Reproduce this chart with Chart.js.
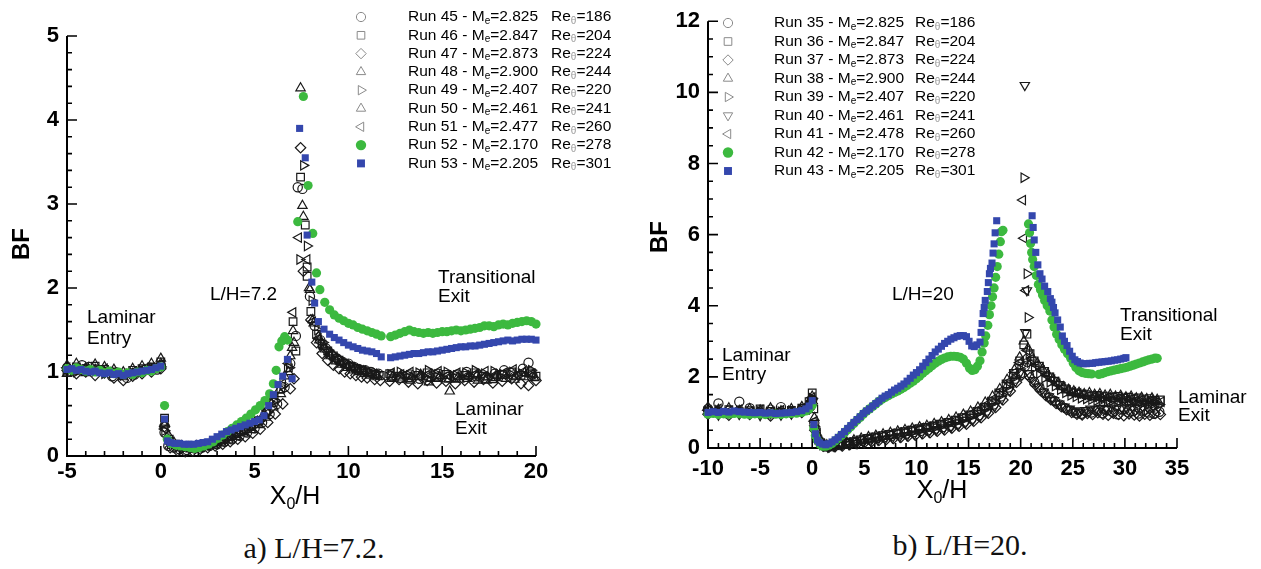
<!DOCTYPE html>
<html>
<head>
<meta charset="utf-8">
<script src="https://cdn.jsdelivr.net/npm/chart.js@4.4.0/dist/chart.umd.min.js"></script>
<style>
  html, body { margin: 0; padding: 0; background: #fff; }
  body { width: 1261px; height: 569px; position: relative; overflow: hidden; }
  .panel { position: absolute; top: 0; }
  #panelA { left: 0; }
  #panelB { left: 640px; }
  .caption {
    position: absolute; white-space: nowrap; transform: translateX(-50%);
    font-family: "Liberation Serif", "Times New Roman", serif; font-size: 30px; color: #111;
  }
</style>
</head>
<body>
<div class="panel" id="panelA"><canvas id="chartA" width="640" height="520"></canvas></div>
<div class="panel" id="panelB"><canvas id="chartB" width="621" height="520"></canvas></div>
<div class="caption" style="left:314px; top:531px;">a) L/H=7.2.</div>
<div class="caption" style="left:960px; top:528px;">b) L/H=20.</div>
<script>
// ---------- a) L/H = 7.2 ----------
const runsA = ['Run 45', 'Run 46', 'Run 47', 'Run 48', 'Run 49', 'Run 50', 'Run 51', 'Run 52', 'Run 53'];
const machA = ['2.825', '2.847', '2.873', '2.900', '2.407', '2.461', '2.477', '2.170', '2.205'];
const reA = ['186', '204', '224', '244', '220', '241', '260', '278', '301'];

const run45 = [[-5,1.05],[-4.6,1.02],[-4.2,1.08],[-3.8,1.06],[-3.4,1.03],[-3,1.0],[-2.6,0.95],[-2.2,0.98],[-1.8,0.93],[-1.4,0.97],[-1,1.0],[-0.6,1.05],[-0.2,1.03],[0,1.08],
  [0.2,0.28],[0.4,0.12],[0.7,0.1],[1,0.08],[1.4,0.07],[1.8,0.09],[2.2,0.1],[2.6,0.12],[3,0.14],
  [3.4,0.17],[3.8,0.2],[4.2,0.24],[4.6,0.28],[5,0.33],[5.4,0.4],[5.8,0.5],[6.2,0.62],[6.6,0.82],[6.9,1.1],[7.2,1.43],
  [7.3,3.2],[7.55,3.18],[7.95,1.9],
  [8.2,1.55],[8.5,1.38],[8.8,1.28],[9.1,1.2],[9.4,1.16],[9.7,1.12],[10,1.1],[10.3,1.06],[10.6,1.03],[10.9,1.02],[11.2,1.0],[11.6,0.98],
  [12.3,0.95],[12.8,0.93],[13.3,0.97],[13.8,0.92],[14.3,0.95],[14.8,0.98],[15.3,0.94],[15.8,0.97],[16.3,1.0],[16.8,0.95],[17.3,0.93],[17.8,0.98],[18.3,1.02],[18.8,0.96],[19.3,1.04],[19.6,1.11],[19.8,0.97]];
const run46 = [[-5,1.0],[-4.5,1.06],[-4,1.04],[-3.5,1.07],[-3,1.03],[-2.5,1.0],[-2,0.97],[-1.5,1.02],[-1,1.04],[-0.5,1.06],[0,1.12],
  [0.2,0.45],[0.45,0.2],[0.8,0.14],[1.2,0.12],[1.6,0.1],[2,0.12],[2.4,0.14],[2.8,0.17],[3.2,0.2],
  [3.6,0.23],[4,0.27],[4.4,0.3],[4.8,0.35],[5.2,0.42],[5.6,0.52],[6,0.64],[6.4,0.8],[6.8,1.05],[7.05,1.6],[7.2,1.25],
  [7.45,3.32],[7.7,2.75],[7.8,2.25],[7.8,2.14],
  [8,1.72],[8.3,1.45],[8.6,1.33],[8.9,1.25],[9.2,1.19],[9.5,1.14],[9.8,1.1],[10.1,1.07],[10.4,1.04],[10.7,1.02],[11,0.99],[11.4,0.97],[11.7,0.96],
  [12.2,0.98],[12.7,0.95],[13.2,0.93],[13.7,0.96],[14.2,0.99],[14.7,0.94],[15.2,0.97],[15.7,0.93],[16.2,0.96],[16.7,0.99],[17.2,0.95],[17.7,0.92],[18.2,0.97],[18.7,1.0],[19.2,0.96],[19.7,0.99],[20,0.95]];
const run47 = [[-5,1.02],[-4.5,0.98],[-4,1.0],[-3.5,0.96],[-3,0.99],[-2.5,0.93],[-2,0.9],[-1.5,0.95],[-1,0.98],[-0.5,1.0],[0,1.04],
  [0.2,0.35],[0.5,0.1],[0.9,0.06],[1.3,0.05],[1.7,0.06],[2.1,0.08],[2.5,0.1],[2.9,0.12],
  [3.3,0.14],[3.7,0.17],[4.1,0.2],[4.5,0.23],[4.9,0.27],[5.3,0.32],[5.7,0.4],[6.1,0.5],[6.5,0.62],[6.9,0.8],[7.1,0.92],
  [7.45,3.67],[7.6,2.2],
  [8,1.62],[8.3,1.35],[8.6,1.22],[8.9,1.14],[9.2,1.08],[9.5,1.04],[9.8,1.0],[10.1,0.98],[10.4,0.96],[10.7,0.94],[11,0.93],[11.4,0.91],[11.7,0.9],
  [12.2,0.89],[12.7,0.91],[13.2,0.88],[13.7,0.86],[14.2,0.9],[14.7,0.87],[15.2,0.89],[15.7,0.86],[16.2,0.9],[16.7,0.88],[17.2,0.91],[17.7,0.87],[18.2,0.89],[18.7,0.92],[19.2,0.86],[19.6,0.84],[20,0.9]];
const run48 = [[-5,1.08],[-4.5,1.1],[-4,1.05],[-3.5,1.09],[-3,1.06],[-2.5,1.03],[-2,1.0],[-1.5,1.04],[-1,1.07],[-0.5,1.1],[0,1.16],
  [0.2,0.4],[0.4,0.25],[0.7,0.16],[1.1,0.12],[1.5,0.11],[1.9,0.12],[2.3,0.13],[2.7,0.16],[3.1,0.19],
  [3.5,0.22],[3.9,0.26],[4.3,0.3],[4.7,0.34],[5.1,0.4],[5.5,0.5],[5.9,0.62],[6.3,0.78],[6.6,0.95],[6.9,1.19],[7,1.29],[7.05,1.49],
  [7.45,4.38],[7.55,2.98],[7.95,1.98],
  [8.1,1.62],[8.4,1.42],[8.7,1.3],[9,1.22],[9.3,1.16],[9.6,1.12],[9.9,1.08],[10.2,1.05],[10.5,1.03],[10.8,1.01],[11.1,0.99],[11.5,0.97],
  [12.3,0.92],[12.8,0.96],[13.3,0.9],[13.8,0.94],[14.3,0.88],[14.8,0.92],[15.4,0.77],[15.9,0.91],[16.4,0.95],[16.9,0.9],[17.4,0.94],[17.9,0.97],[18.4,0.92],[18.9,0.95],[19.4,0.99],[19.9,0.93]];
const run49 = [[-5,1.03],[-4.5,1.0],[-4,1.03],[-3.5,1.01],[-3,0.98],[-2.5,1.0],[-2,0.96],[-1.5,0.99],[-1,1.02],[-0.5,1.04],[0,1.06],
  [0.2,0.3],[0.5,0.14],[0.9,0.11],[1.3,0.1],[1.7,0.1],[2.1,0.11],[2.5,0.13],[2.9,0.15],
  [3.3,0.18],[3.7,0.22],[4.1,0.26],[4.5,0.3],[4.9,0.35],[5.3,0.42],[5.7,0.52],[6.1,0.66],[6.5,0.84],[6.85,1.05],
  [7.6,3.46],[7.8,2.5],[7.4,2.34],
  [8.05,1.85],[8.35,1.5],[8.65,1.35],[8.95,1.26],[9.25,1.2],[9.55,1.15],[9.85,1.11],[10.15,1.08],[10.45,1.05],[10.75,1.03],[11.05,1.01],[11.45,0.99],
  [12.25,0.97],[12.75,1.0],[13.25,0.96],[13.75,0.99],[14.25,1.02],[14.75,0.97],[15.25,1.0],[15.75,0.96],[16.25,0.99],[16.75,1.02],[17.25,0.98],[17.75,1.01],[18.25,0.97],[18.75,1.0],[19.25,0.98],[19.75,1.02]];
const run50 = [[-5,0.98],[-4.5,1.02],[-4,0.99],[-3.5,1.03],[-3,1.0],[-2.5,0.97],[-2,0.94],[-1.5,0.98],[-1,1.01],[-0.5,1.03],[0,1.1],
  [0.2,0.38],[0.45,0.18],[0.8,0.12],[1.2,0.09],[1.6,0.08],[2,0.09],[2.4,0.11],[2.8,0.13],[3.2,0.16],
  [3.6,0.19],[4,0.23],[4.4,0.27],[4.8,0.31],[5.2,0.37],[5.6,0.46],[6,0.58],[6.4,0.74],[6.8,1.0],[7.1,1.35],
  [7.6,2.85],[7.9,2.0],
  [8.15,1.58],[8.45,1.38],[8.75,1.27],[9.05,1.19],[9.35,1.13],[9.65,1.09],[9.95,1.05],[10.25,1.02],[10.55,1.0],[10.85,0.98],[11.15,0.96],[11.55,0.94],
  [12.35,0.94],[12.85,0.91],[13.35,0.94],[13.85,0.97],[14.35,0.92],[14.85,0.95],[15.35,0.91],[15.85,0.94],[16.35,0.92],[16.85,0.96],[17.35,0.9],[17.85,0.93],[18.35,0.96],[18.85,0.91],[19.35,0.94],[19.85,0.97]];
const run51 = [[-5,1.05],[-4.5,1.03],[-4,1.06],[-3.5,1.02],[-3,1.04],[-2.5,0.99],[-2,0.98],[-1.5,1.0],[-1,1.03],[-0.5,1.05],[0,1.09],
  [0.2,0.32],[0.5,0.15],[0.9,0.12],[1.3,0.11],[1.7,0.11],[2.1,0.12],[2.5,0.14],[2.9,0.16],
  [3.3,0.19],[3.7,0.23],[4.1,0.27],[4.5,0.31],[4.9,0.36],[5.3,0.43],[5.7,0.54],[6.1,0.68],[6.5,0.86],[6.8,1.1],[7.05,1.71],
  [7.35,2.6],[7.8,2.34],
  [8.1,1.6],[8.4,1.4],[8.7,1.29],[9,1.21],[9.3,1.15],[9.6,1.11],[9.9,1.07],[10.2,1.04],[10.5,1.02],[10.8,1.0],[11.1,0.98],[11.5,0.96],
  [12.3,0.99],[12.8,0.97],[13.3,1.0],[13.8,0.95],[14.3,0.98],[14.8,1.01],[15.3,0.96],[15.8,0.99],[16.3,0.95],[16.8,0.98],[17.3,1.01],[17.8,0.96],[18.3,0.99],[18.8,1.03],[19.3,1.0],[19.8,0.98]];
const run52 = [[-5,1.04],[-4.75,1.02],[-4.5,1.05],[-4.25,1.03],[-4,1.01],[-3.75,1.03],[-3.5,1.0],[-3.25,1.02],[-3,0.99],[-2.75,1.01],[-2.5,0.98],[-2.25,1.0],[-2,0.97],[-1.75,0.99],[-1.5,0.97],[-1.25,1.0],[-1,0.99],[-0.75,1.02],[-0.5,1.01],[-0.25,1.04],[0,1.06],
  [0.2,0.6],[0.35,0.2],[0.55,0.15],[0.8,0.13],[1.05,0.12],[1.3,0.11],[1.55,0.1],[1.8,0.09],[2.05,0.1],[2.3,0.12],[2.55,0.14],[2.8,0.17],[3.05,0.21],[3.3,0.25],[3.55,0.29],[3.8,0.33],[4.05,0.37],[4.3,0.41],[4.55,0.45],[4.8,0.5],[5.05,0.55],[5.3,0.6],[5.55,0.66],[5.8,0.74],[6,0.86],[6.15,1.02],[6.3,1.3],[6.45,1.37],[6.6,1.42],[6.75,1.38],
  [7.3,2.79],[7.6,4.28],[7.85,3.22],[8.1,2.65],[8.3,2.18],[8.48,1.98],[8.74,1.83],[9,1.74],[9.25,1.68],[9.5,1.64],[9.75,1.61],[10,1.58],[10.25,1.56],[10.5,1.53],[10.75,1.51],[11,1.49],[11.25,1.47],[11.5,1.45],[11.75,1.43],
  [12.25,1.42],[12.5,1.44],[12.75,1.46],[13,1.48],[13.25,1.5],[13.5,1.48],[13.75,1.47],[14,1.46],[14.25,1.47],[14.5,1.46],[14.75,1.47],[15,1.48],[15.25,1.48],[15.5,1.49],[15.75,1.5],[16,1.49],[16.25,1.5],[16.5,1.51],[16.75,1.52],[17,1.53],[17.25,1.55],[17.5,1.55],[17.75,1.54],[18,1.56],[18.25,1.57],[18.5,1.56],[18.75,1.58],[19,1.59],[19.25,1.6],[19.5,1.61],[19.75,1.6],[20,1.57]];
const run53 = [[-5,1.03],[-4.75,1.04],[-4.5,1.02],[-4.25,1.03],[-4,1.01],[-3.75,1.0],[-3.5,1.01],[-3.25,0.99],[-3,0.98],[-2.75,0.99],[-2.5,0.97],[-2.25,0.98],[-2,0.96],[-1.75,0.98],[-1.5,0.99],[-1.25,1.0],[-1,1.01],[-0.75,1.02],[-0.5,1.03],[-0.25,1.05],[0,1.07],
  [0.2,0.44],[0.35,0.18],[0.5,0.16],[0.75,0.15],[1,0.15],[1.25,0.14],[1.5,0.14],[1.75,0.14],[2,0.15],[2.25,0.16],[2.5,0.17],[2.75,0.2],[3,0.23],[3.25,0.26],[3.5,0.29],[3.75,0.31],[4,0.33],[4.25,0.35],[4.5,0.37],[4.75,0.39],[5,0.41],[5.25,0.43],[5.5,0.48],[5.75,0.6],[6,0.73],[6.25,0.85],[6.5,0.95],[6.75,1.15],[7,0.92],
  [7.4,3.9],[7.7,3.55],[7.8,2.63],[8.05,2.07],[8.2,1.82],[8.4,1.6],[8.7,1.51],[9,1.45],[9.25,1.41],[9.5,1.38],[9.75,1.35],[10,1.32],[10.25,1.3],[10.5,1.28],[10.75,1.26],[11,1.25],[11.25,1.24],[11.5,1.22],[11.75,1.18],
  [12.25,1.17],[12.5,1.18],[12.75,1.19],[13,1.2],[13.25,1.21],[13.5,1.22],[13.75,1.22],[14,1.23],[14.25,1.24],[14.5,1.24],[14.75,1.25],[15,1.26],[15.25,1.27],[15.5,1.28],[15.75,1.29],[16,1.3],[16.25,1.3],[16.5,1.31],[16.75,1.31],[17,1.32],[17.25,1.33],[17.5,1.34],[17.75,1.35],[18,1.36],[18.25,1.37],[18.5,1.38],[18.75,1.37],[19,1.38],[19.25,1.39],[19.5,1.39],[19.75,1.39],[20,1.38]];

// ---------- b) L/H = 20 ----------
const runsB = ['Run 35', 'Run 36', 'Run 37', 'Run 38', 'Run 39', 'Run 40', 'Run 41', 'Run 42', 'Run 43'];
const machB = ['2.825', '2.847', '2.873', '2.900', '2.407', '2.461', '2.478', '2.170', '2.205'];
const reB = ['186', '204', '224', '244', '220', '241', '260', '278', '301'];

const run35 = [[-10,1.1],[-9,1.25],[-8,1.05],[-7,1.3],[-6,1.12],[-5,1.0],[-4,1.08],[-3,1.15],[-2,1.02],[-1,1.1],[-0.3,1.2],[0,1.35],
  [0.2,0.7],[0.5,0.3],[1,0.1],[1.5,0.04],[2,0.05],[2.7,0.08],[3.4,0.12],[4.1,0.16],[4.8,0.2],[5.5,0.24],[6.2,0.28],[6.9,0.3],[7.6,0.34],[8.3,0.38],[9,0.4],[9.7,0.44],[10.4,0.48],[11.1,0.5],[11.8,0.54],[12.5,0.58],[13.2,0.62],[13.9,0.68],[14.6,0.74],[15.3,0.82],[16,0.92],[16.7,1.05],[17.4,1.22],[18.1,1.45],[18.8,1.7],[19.5,1.95],[20,2.1],[20.4,2.3],
  [20.8,2.05],[21.3,1.85],[21.8,1.7],[22.3,1.55],[22.8,1.42],[23.3,1.32],[23.8,1.22],[24.3,1.12],[24.8,1.05],[25.3,0.98],[25.8,0.96],[26.3,1.02],[26.8,1.0],[27.3,1.05],[27.8,0.98],[28.3,1.06],[28.8,1.02],[29.3,0.95],[29.8,1.08],[30.3,1.0],[30.8,1.04],[31.3,0.97],[31.8,1.05],[32.3,1.0],[32.8,0.96],[33.3,1.02]];
const run36 = [[-10,1.05],[-9,1.0],[-8,1.08],[-7,1.02],[-6,1.05],[-5,1.1],[-4,1.03],[-3,1.0],[-2,1.06],[-1,1.12],[-0.3,1.3],[0,1.55],
  [0.15,1.1],[0.4,0.45],[0.8,0.15],[1.3,0.06],[1.8,0.07],[2.5,0.1],[3.2,0.14],[3.9,0.18],[4.6,0.23],[5.3,0.27],[6,0.31],[6.7,0.35],[7.4,0.38],[8.1,0.42],[8.8,0.46],[9.5,0.5],[10.2,0.54],[10.9,0.58],[11.6,0.62],[12.3,0.67],[13,0.72],[13.7,0.78],[14.4,0.85],[15.1,0.93],[15.8,1.03],[16.5,1.15],[17.2,1.32],[17.9,1.55],[18.6,1.8],[19.3,2.1],[19.9,2.45],[20.3,2.9],[20.6,3.2],
  [20.9,2.65],[21.3,2.45],[21.8,2.3],[22.3,2.15],[22.8,2.0],[23.3,1.88],[23.8,1.76],[24.3,1.66],[24.8,1.58],[25.3,1.55],[25.8,1.52],[26.3,1.5],[26.8,1.46],[27.3,1.48],[27.8,1.44],[28.3,1.46],[28.8,1.42],[29.3,1.45],[29.8,1.4],[30.3,1.43],[30.8,1.38],[31.3,1.41],[31.8,1.36],[32.3,1.39],[32.8,1.34],[33.4,1.35]];
const run37 = [[-10,0.95],[-9,1.02],[-8,0.92],[-7,0.98],[-6,0.94],[-5,0.97],[-4,0.9],[-3,0.95],[-2,0.98],[-1,1.0],[-0.3,1.1],[0,1.25],
  [0.25,0.5],[0.6,0.18],[1.1,0.05],[1.6,0.02],[2.2,0.04],[2.9,0.06],[3.6,0.09],[4.3,0.12],[5,0.15],[5.7,0.18],[6.4,0.21],[7.1,0.24],[7.8,0.27],[8.5,0.3],[9.2,0.33],[9.9,0.36],[10.6,0.4],[11.3,0.43],[12,0.47],[12.7,0.51],[13.4,0.56],[14.1,0.61],[14.8,0.67],[15.5,0.75],[16.2,0.85],[16.9,0.98],[17.6,1.14],[18.3,1.35],[19,1.6],[19.6,1.85],[20.1,2.05],[20.5,2.5],
  [20.9,1.98],[21.4,1.78],[21.9,1.62],[22.4,1.48],[22.9,1.36],[23.4,1.25],[23.9,1.16],[24.4,1.08],[24.9,1.0],[25.4,0.95],[25.9,0.93],[26.4,0.97],[26.9,0.94],[27.4,0.99],[27.9,0.95],[28.4,0.92],[28.9,0.98],[29.4,0.94],[29.9,0.91],[30.4,0.96],[30.9,0.93],[31.4,0.9],[31.9,0.95],[32.4,0.92],[32.9,0.97],[33.4,0.94]];
const run38 = [[-10,1.15],[-9,1.08],[-8,1.12],[-7,1.05],[-6,1.1],[-5,1.06],[-4,1.12],[-3,1.04],[-2,1.1],[-1,1.16],[-0.3,1.28],[0,1.45],
  [0.2,0.85],[0.5,0.35],[0.9,0.14],[1.4,0.08],[2,0.1],[2.6,0.13],[3.3,0.17],[4,0.22],[4.7,0.27],[5.4,0.31],[6.1,0.35],[6.8,0.39],[7.5,0.43],[8.2,0.47],[8.9,0.51],[9.6,0.55],[10.3,0.59],[11,0.63],[11.7,0.68],[12.4,0.73],[13.1,0.79],[13.8,0.86],[14.5,0.94],[15.2,1.03],[15.9,1.14],[16.6,1.28],[17.3,1.45],[18,1.66],[18.7,1.92],[19.4,2.2],[19.9,2.55],[20.3,3.0],
  [20.7,2.8],[21.1,2.55],[21.6,2.38],[22.1,2.22],[22.6,2.08],[23.1,1.95],[23.6,1.83],[24.1,1.72],[24.6,1.64],[25.1,1.6],[25.6,1.56],[26.1,1.52],[26.6,1.55],[27.1,1.5],[27.6,1.52],[28.1,1.48],[28.6,1.5],[29.1,1.45],[29.6,1.47],[30.1,1.43],[30.6,1.45],[31.1,1.4],[31.6,1.42],[32.1,1.38],[32.6,1.4],[33.1,1.36]];
const run39 = [[-10,1.02],[-9,1.06],[-8,0.98],[-7,1.04],[-6,1.0],[-5,1.03],[-4,0.97],[-3,1.02],[-2,1.05],[-1,1.08],[-0.3,1.2],[0,1.4],
  [0.2,0.6],[0.5,0.25],[1,0.08],[1.5,0.05],[2.1,0.07],[2.8,0.1],[3.5,0.14],[4.2,0.18],[4.9,0.22],[5.6,0.26],[6.3,0.29],[7,0.33],[7.7,0.36],[8.4,0.4],[9.1,0.44],[9.8,0.48],[10.5,0.52],[11.2,0.56],[11.9,0.6],[12.6,0.65],[13.3,0.7],[14,0.76],[14.7,0.83],[15.4,0.91],[16.1,1.01],[16.8,1.13],[17.5,1.29],[18.2,1.5],[18.9,1.75],[19.5,2.0],[20,2.3],
  [20.3,7.6],[20.6,4.9],[20.7,3.67],
  [20.9,2.4],[21.3,2.25],[21.8,2.1],[22.3,1.97],[22.8,1.85],[23.3,1.74],[23.8,1.64],[24.3,1.55],[24.8,1.48],[25.3,1.44],[25.8,1.4],[26.3,1.38],[26.8,1.36],[27.3,1.33],[27.8,1.35],[28.3,1.31],[28.8,1.33],[29.3,1.29],[29.8,1.31],[30.3,1.27],[30.8,1.29],[31.3,1.25],[31.8,1.27],[32.3,1.23],[32.8,1.25],[33.3,1.22]];
const run40 = [[-10,0.98],[-9,0.93],[-8,1.0],[-7,0.95],[-6,0.99],[-5,0.92],[-4,0.97],[-3,0.93],[-2,0.96],[-1,1.02],[-0.3,1.12],[0,1.3],
  [0.2,0.55],[0.55,0.2],[1,0.07],[1.5,0.03],[2.1,0.05],[2.8,0.08],[3.5,0.11],[4.2,0.14],[4.9,0.17],[5.6,0.2],[6.3,0.23],[7,0.26],[7.7,0.29],[8.4,0.32],[9.1,0.35],[9.8,0.39],[10.5,0.42],[11.2,0.46],[11.9,0.5],[12.6,0.54],[13.3,0.59],[14,0.64],[14.7,0.71],[15.4,0.79],[16.1,0.89],[16.8,1.01],[17.5,1.17],[18.2,1.38],[18.9,1.62],[19.5,1.88],[20,2.15],
  [20.4,10.2],[20.45,3.25],[20.6,4.43],
  [20.8,2.1],[21.2,1.9],[21.7,1.72],[22.2,1.58],[22.7,1.45],[23.2,1.34],[23.7,1.24],[24.2,1.16],[24.7,1.1],[25.2,1.05],[25.7,1.02],[26.2,1.06],[26.7,1.1],[27.2,1.08],[27.7,1.12],[28.2,1.09],[28.7,1.13],[29.2,1.1],[29.7,1.14],[30.2,1.11],[30.7,1.15],[31.2,1.12],[31.7,1.16],[32.2,1.13],[32.7,1.17],[33.2,1.14]];
const run41 = [[-10,1.06],[-9,1.1],[-8,1.03],[-7,1.08],[-6,1.02],[-5,1.07],[-4,1.01],[-3,1.06],[-2,1.03],[-1,1.09],[-0.3,1.22],[0,1.42],
  [0.2,0.75],[0.5,0.3],[0.95,0.1],[1.45,0.06],[2,0.08],[2.7,0.11],[3.4,0.15],[4.1,0.19],[4.8,0.24],[5.5,0.28],[6.2,0.32],[6.9,0.36],[7.6,0.4],[8.3,0.44],[9,0.48],[9.7,0.52],[10.4,0.56],[11.1,0.6],[11.8,0.64],[12.5,0.69],[13.2,0.74],[13.9,0.8],[14.6,0.88],[15.3,0.97],[16,1.08],[16.7,1.21],[17.4,1.38],[18.1,1.6],[18.8,1.85],[19.4,2.12],[19.9,2.4],
  [20.2,6.97],[20.3,5.9],[20.5,4.43],[20.6,2.75],
  [21,2.5],[21.5,2.33],[22,2.18],[22.5,2.04],[23,1.92],[23.5,1.8],[24,1.7],[24.5,1.62],[25,1.57],[25.5,1.53],[26,1.49],[26.5,1.46],[27,1.43],[27.5,1.41],[28,1.38],[28.5,1.4],[29,1.36],[29.5,1.38],[30,1.34],[30.5,1.36],[31,1.32],[31.5,1.34],[32,1.3],[32.5,1.32],[33,1.28],[33.5,1.3]];
const run42 = [[-10,0.95],[-9.5,0.97],[-9,0.94],[-8.5,0.96],[-8,0.95],[-7.5,0.97],[-7,0.96],[-6.5,0.95],[-6,0.94],[-5.5,0.96],[-5,0.95],[-4.5,0.94],[-4,0.96],[-3.5,0.95],[-3,0.94],[-2.5,0.96],[-2,0.97],[-1.5,0.98],[-1,1.0],[-0.6,1.04],[-0.3,1.1],[0,1.2],
  [0.15,0.56],[0.3,0.35],[0.5,0.22],[0.75,0.1],[1,0.05],[1.3,0.05],[1.6,0.08],[1.9,0.13],[2.2,0.2],[2.5,0.27],[2.8,0.35],[3.1,0.43],[3.4,0.51],[3.7,0.6],[4,0.69],[4.3,0.78],[4.6,0.86],[4.9,0.95],[5.2,1.03],[5.5,1.1],[5.8,1.17],[6.1,1.24],[6.4,1.31],[6.7,1.37],[7,1.42],[7.3,1.47],[7.6,1.52],[7.9,1.56],[8.2,1.6],[8.5,1.65],[8.8,1.7],[9.1,1.76],[9.4,1.82],[9.7,1.88],[10,1.95],[10.3,2.02],[10.6,2.1],[10.9,2.17],[11.2,2.24],[11.5,2.31],[11.8,2.38],[12.1,2.44],[12.4,2.49],[12.7,2.53],[13,2.56],[13.3,2.58],[13.6,2.58],[13.9,2.57],[14.2,2.55],[14.5,2.5],[14.8,2.38],[15.1,2.24],[15.35,2.18],[15.6,2.2],[15.85,2.3],
  [16.1,2.45],[16.3,2.7],[16.5,2.95],[16.65,3.15],[16.85,3.45],[17,3.75],[17.15,4.0],[17.3,4.25],[17.45,4.5],[17.6,4.8],[17.75,5.1],[17.9,5.45],[18.05,5.8],[18.15,6.08],[18.3,6.12],
  [20.75,6.3],[20.85,6.05],[20.95,5.75],[21.05,5.5],[21.15,5.3],[21.3,5.1],[21.5,4.85],[21.7,4.6],[21.9,4.45],[22.1,4.3],[22.3,4.15],[22.55,4.0],[22.8,3.85],[23,3.6],[23.2,3.4],[23.45,3.2],[23.7,3.05],[23.95,2.9],[24.2,2.78],[24.5,2.65],[24.8,2.52],[25.05,2.38],[25.3,2.26],[25.6,2.17],[25.9,2.12],[26.2,2.1],[26.5,2.09],[26.8,2.08],
  [27.5,2.07],[27.8,2.09],[28.1,2.12],[28.4,2.15],[28.7,2.17],[29,2.19],[29.3,2.21],[29.6,2.23],[29.9,2.25],[30.2,2.27],[30.5,2.3],[30.8,2.33],[31.1,2.36],[31.4,2.39],[31.7,2.42],[32,2.45],[32.3,2.48],[32.6,2.5],[32.9,2.53],[33.1,2.52]];
const run43 = [[-10,1.0],[-9.5,1.02],[-9,1.0],[-8.5,1.03],[-8,1.01],[-7.5,1.04],[-7,1.02],[-6.5,1.01],[-6,1.0],[-5.5,0.99],[-5,1.0],[-4.5,0.98],[-4,0.99],[-3.5,0.97],[-3,0.98],[-2.5,0.99],[-2,1.0],[-1.5,1.02],[-1,1.05],[-0.6,1.1],[-0.3,1.18],[0,1.33],
  [0.15,0.66],[0.3,0.4],[0.5,0.22],[0.7,0.15],[1,0.11],[1.3,0.09],[1.6,0.12],[1.9,0.17],[2.2,0.23],[2.5,0.3],[2.8,0.38],[3.1,0.46],[3.4,0.55],[3.7,0.63],[4,0.72],[4.3,0.8],[4.6,0.88],[4.9,0.97],[5.2,1.04],[5.5,1.1],[5.8,1.18],[6.1,1.25],[6.4,1.32],[6.7,1.4],[7,1.46],[7.3,1.5],[7.6,1.57],[7.9,1.63],[8.2,1.68],[8.5,1.74],[8.8,1.8],[9.1,1.88],[9.4,1.96],[9.7,2.05],[10,2.12],[10.3,2.2],[10.6,2.3],[10.9,2.4],[11.2,2.5],[11.5,2.6],[11.8,2.7],[12.1,2.78],[12.4,2.86],[12.7,2.94],[13,3.0],[13.3,3.06],[13.6,3.1],[13.9,3.14],[14.2,3.16],[14.5,3.16],[14.8,3.13],[15.05,3.0],[15.3,2.87],[15.55,2.85],[15.8,2.9],
  [16.1,2.98],[16.2,3.25],[16.3,3.5],[16.4,3.78],[16.5,3.95],[16.6,4.15],[16.8,4.4],[16.9,4.65],[17,4.9],[17.1,5.05],[17.25,5.2],[17.35,5.48],[17.45,5.74],[17.55,6.05],[17.7,6.39],
  [21.1,6.53],[21.2,6.2],[21.3,5.85],[21.45,5.5],[21.65,5.15],[21.85,4.9],[22.05,4.75],[22.3,4.55],[22.6,4.4],[22.85,4.2],[23,4.1],[23.15,3.95],[23.3,3.8],[23.55,3.6],[23.8,3.4],[24,3.15],[24.2,3.0],[24.45,2.88],[24.7,2.72],[24.95,2.58],[25.2,2.48],[25.45,2.43],[25.7,2.39],[26,2.37],[26.3,2.37],[26.6,2.38],[26.9,2.38],[27.2,2.4],[27.5,2.41],[27.8,2.42],[28.1,2.43],[28.4,2.44],[28.7,2.45],[29,2.47],[29.3,2.48],[29.6,2.5],[29.9,2.52],[30.1,2.54]];

const FONT = "'Liberation Sans', Arial, Helvetica, sans-serif";
const OPEN_INK = 'rgba(25,25,25,1)';
const GREEN = '#3cb93f';
const BLUE = '#3447ad';

// marker look per legend row (same order as the run lists)
function open(style, rotation, radius) { return { style, rotation, radius, fill: false }; }
const marksA = [
  open('circle', 0, 4.6), open('rect', 0, 5.4), open('rectRot', 0, 5.2), open('triangle', 0, 5.4),
  open('triangle', 90, 5.4), open('triangle', 0, 5.4), open('triangle', 270, 5.4),
  { style: 'circle', rotation: 0, radius: 4.6, fill: true, color: GREEN },
  { style: 'rect', rotation: 0, radius: 5, fill: true, color: BLUE }
];
const marksB = marksA.slice();
marksB[5] = open('triangle', 180, 5.4);

function series(label, pts, m) {
  return {
    label,
    data: pts.map(([x, y]) => ({ x, y })),
    pointStyle: m.style,
    pointRotation: m.rotation,
    pointRadius: m.radius,
    pointBackgroundColor: m.fill ? m.color : 'rgba(0,0,0,0)',
    pointBorderColor: m.fill ? m.color : OPEN_INK,
    pointBorderWidth: m.fill ? 0 : 1.2,
    order: m.fill ? (m.style === 'rect' ? 0 : 1) : 2,
    clip: false
  };
}

function isMultiple(v, step) {
  const r = v / step;
  return Math.abs(r - Math.round(r)) < 1e-6;
}

// draws a run of text and returns where it ends
function piece(ctx, s, x, y, size, color) {
  ctx.font = `${size}px ${FONT}`;
  ctx.fillStyle = color || '#000';
  ctx.fillText(s, x, y);
  return x + ctx.measureText(s).width;
}

function drawLegend(ctx, lg) {
  ctx.textAlign = 'left';
  ctx.textBaseline = 'middle';
  lg.runs.forEach((run, i) => {
    const y = lg.y0 + i * lg.dy;
    const m = lg.marks[i];
    ctx.save();
    ctx.fillStyle = m.fill ? m.color : 'rgba(0,0,0,0)';
    ctx.strokeStyle = '#8a8a8a';
    ctx.lineWidth = 1;
    Chart.helpers.drawPoint(ctx, {
      pointStyle: m.style, rotation: m.rotation,
      radius: m.fill ? m.radius + 0.6 : m.radius, borderWidth: m.fill ? 0 : 1
    }, lg.markX, y);
    ctx.restore();
    let x = piece(ctx, run + ' - M', lg.textX, y, 15.5);
    x = piece(ctx, 'e', x, y + 4, 10);
    piece(ctx, '=' + lg.mach[i], x, y, 15.5);
    x = piece(ctx, 'Re', lg.textX + lg.reOffset, y, 15.5);
    x = piece(ctx, 'θ', x, y + 4, 10, '#999');
    piece(ctx, '=' + lg.re[i], x, y, 15.5);
  });
}

function makeDecor(cfg) {
  return {
    id: 'decor',
    beforeDatasetsDraw(chart) {
      const { ctx, chartArea: a, scales: { x, y } } = chart;
      ctx.save();
      ctx.strokeStyle = '#000';
      ctx.lineWidth = 2;
      ctx.beginPath();
      ctx.moveTo(a.left, a.top);
      ctx.lineTo(a.left, a.bottom);
      ctx.lineTo(a.right, a.bottom);
      ctx.stroke();
      // inward tick marks
      ctx.lineWidth = 1.6;
      ctx.beginPath();
      x.ticks.forEach(t => {
        const px = x.getPixelForValue(t.value);
        const len = isMultiple(t.value, cfg.xMajor) ? 10 : 5;
        ctx.moveTo(px, a.bottom);
        ctx.lineTo(px, a.bottom - len);
      });
      y.ticks.forEach(t => {
        const py = y.getPixelForValue(t.value);
        const len = isMultiple(t.value, cfg.yMajor) ? 10 : 5;
        ctx.moveTo(a.left, py);
        ctx.lineTo(a.left + len, py);
      });
      ctx.stroke();
      ctx.restore();
    },
    afterDraw(chart) {
      const ctx = chart.ctx;
      ctx.save();
      ctx.fillStyle = '#000';
      ctx.textBaseline = 'middle';

      // y title
      ctx.font = `bold 24px ${FONT}`;
      ctx.textAlign = 'center';
      ctx.save();
      ctx.translate(cfg.bf[0], cfg.bf[1]);
      ctx.rotate(-Math.PI / 2);
      ctx.fillText('BF', 0, 0);
      ctx.restore();

      // x title X0/H with subscript
      ctx.textAlign = 'left';
      ctx.font = `25px ${FONT}`;
      const wX = ctx.measureText('X').width, wH = ctx.measureText('/H').width;
      ctx.font = `16px ${FONT}`;
      const w0 = ctx.measureText('0').width;
      let tx = cfg.xt[0] - (wX + w0 + wH) / 2;
      tx = piece(ctx, 'X', tx, cfg.xt[1], 25);
      tx = piece(ctx, '0', tx, cfg.xt[1] + 8, 16);
      piece(ctx, '/H', tx, cfg.xt[1], 25);

      // annotations
      ctx.font = `19px ${FONT}`;
      ctx.fillStyle = '#000';
      cfg.notes.forEach(n => n.lines.forEach((s, i) => ctx.fillText(s, n.x, n.y + i * n.gap)));

      drawLegend(ctx, cfg.legend);
      ctx.restore();
    }
  };
}

function makeChart(id, sets, ax, decor) {
  const tickFont = { family: FONT, size: 22, weight: 'bold' };
  return new Chart(document.getElementById(id), {
    type: 'scatter',
    data: { datasets: sets },
    options: {
      responsive: false,
      animation: false,
      events: [],
      layout: { padding: ax.padding },
      plugins: { legend: { display: false }, tooltip: { enabled: false } },
      scales: {
        x: {
          type: 'linear', min: ax.x[0], max: ax.x[1],
          grid: { display: false, drawTicks: false }, border: { display: false },
          afterFit: s => { s.height = 40; },
          ticks: {
            stepSize: ax.xStep, autoSkip: false, maxRotation: 0, maxTicksLimit: 1000,
            padding: ax.xPad, color: '#000', font: tickFont,
            callback: v => isMultiple(v, ax.xMajor) ? String(Math.round(v)) : ''
          }
        },
        y: {
          type: 'linear', min: ax.y[0], max: ax.y[1],
          grid: { display: false, drawTicks: false }, border: { display: false },
          afterFit: s => { s.width = ax.yWidth; },
          ticks: {
            stepSize: ax.yStep, autoSkip: false, maxTicksLimit: 1000,
            padding: 8, color: '#000', font: tickFont,
            callback: v => isMultiple(v, ax.yMajor) ? String(Math.round(v)) : ''
          }
        }
      }
    },
    plugins: [makeDecor(decor)]
  });
}

const setsA = [run45, run46, run47, run48, run49, run50, run51, run52, run53]
  .map((pts, i) => series(runsA[i], pts, marksA[i]));
const setsB = [run35, run36, run37, run38, run39, run40, run41, run42, run43]
  .map((pts, i) => series(runsB[i], pts, marksB[i]));

makeChart('chartA', setsA,
  { x: [-5, 20], xStep: 1, xMajor: 5, y: [0, 5], yStep: 0.2, yMajor: 1, xPad: 3, yWidth: 67,
    padding: { left: 0, right: 104, top: 36, bottom: 24 } },
  { xMajor: 5, yMajor: 1, bf: [22, 244], xt: [295, 497],
    notes: [
      { x: 87, y: 318, gap: 21, lines: ['Laminar', 'Entry'] },
      { x: 210, y: 295, gap: 21, lines: ['L/H=7.2'] },
      { x: 438, y: 278, gap: 19, lines: ['Transitional', 'Exit'] },
      { x: 455, y: 410, gap: 19, lines: ['Laminar', 'Exit'] }
    ],
    legend: { runs: runsA, mach: machA, re: reA, marks: marksA, markX: 361, textX: 408, reOffset: 143, y0: 17, dy: 18.3 } });

makeChart('chartB', setsB,
  { x: [-10, 35], xStep: 1, xMajor: 5, y: [0, 12], yStep: 0.5, yMajor: 2, xPad: 8, yWidth: 68,
    padding: { left: 0, right: 84, top: 20, bottom: 32 } },
  { xMajor: 5, yMajor: 2, bf: [20, 237], xt: [302, 491],
    notes: [
      { x: 82, y: 356, gap: 19, lines: ['Laminar', 'Entry'] },
      { x: 252, y: 295, gap: 19, lines: ['L/H=20'] },
      { x: 480, y: 316, gap: 19, lines: ['Transitional', 'Exit'] },
      { x: 538, y: 398, gap: 18, lines: ['Laminar', 'Exit'] }
    ],
    legend: { runs: runsB, mach: machB, re: reB, marks: marksB, markX: 88, textX: 134, reOffset: 141, y0: 23, dy: 18.5 } });
</script>
</body>
</html>
